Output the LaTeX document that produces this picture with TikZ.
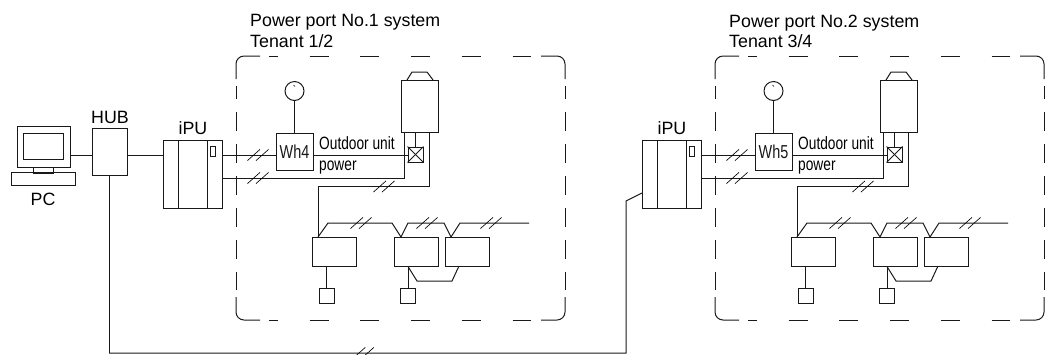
\documentclass[tikz,border=0pt]{standalone}
\usepackage{fontspec}
\setmainfont{Liberation Sans}
\newfontfamily\narrowfont[FakeStretch=0.77]{Liberation Sans}
\tikzset{
  wire/.style={line width=0.85pt,black!90},
  tickmark/.style={line width=0.55pt,black},
  box/.style 2 args={draw,wire,inner sep=0pt,minimum width=#1*0.03cm,minimum height=#2*0.03cm},
  label/.style={inner sep=0pt,anchor=base,font=\fontsize{15.2}{17.5}\selectfont},
  narrowlabel/.style={inner sep=0pt,font=\narrowfont\fontsize{15.2}{17.5}\selectfont},
  border/.style={line width=0.85pt,black!90},
  borderh/.style={border,dash pattern=on 0.57cm off 0.951cm,dash phase=0.3cm},
  borderv/.style={border,dash pattern=on 0.57cm off 0.39cm,dash phase=0.18cm}
}
\begin{document}
\begin{tikzpicture}[x=0.03cm,y=-0.03cm]
    \useasboundingbox (0,0) rectangle (1045,354);
    % PC
    \node[box={53}{41}] (mon) at (43.5,146.5) {};
    \node[box={40}{26}] (screen) at (43,146) {};
    \node[box={20}{6}] (neck) at (43,170) {};
    \node[box={64}{13.5}] (keyb) at (43,179.2) {};
    \node[label] (pclabel) at (43,205) {PC};
    % HUB
    \node[box={35}{47}] (hub) at (109.5,151.5) {};
    \node[label] (hublabel) at (110,123.5) {HUB};
    \coordinate (lan) at (140,155);
    \coordinate (lanb) at (626,353);
    \coordinate (lank) at (626,201);
    \coordinate (lanin) at (642,193);
    % one power port system
    \foreach \s/\dx/\ten/\wh in {1/0/{1/2}/4,2/479/{3/4}/5} {
      \begin{scope}[xshift=\dx*0.03cm]
        \node[label,anchor=north west,align=left] (title\s) at (250,14.5)
          {Power port No.\s{} system\\Tenant \ten};
        % dashed frame
        \draw[border,rounded corners=8*0.03cm] (236,79) -- (236,56) -- (260,56);
        \draw[border,rounded corners=8*0.03cm] (541,56) -- (565,56) -- (565,79);
        \draw[border,rounded corners=8*0.03cm] (236,297) -- (236,320) -- (260,320);
        \draw[border,rounded corners=8*0.03cm] (541,320) -- (565,320) -- (565,297);
        \draw[borderh] (269,56) -- (531,56);
        \draw[borderh] (269,320) -- (531,320);
        \draw[borderv] (236,86) -- (236,290);
        \draw[borderv] (565,86) -- (565,290);
        % iPU
        \node[box={15}{68}] (ipua\s) at (170.5,174) {};
        \node[box={29}{68}] (ipub\s) at (192.5,174) {};
        \node[box={15}{68}] (ipuc\s) at (214.5,174) {};
        \node[box={5}{10}] (led\s) at (212.5,151) {};
        \node[label] (ipulabel\s) at (193,134) {iPU};
        % meter
        \node[box={37}{37}] (wh\s) at (294.5,151.5) {\narrowfont\fontsize{16}{17.5}\selectfont Wh\wh};
        \node[draw,wire,circle,inner sep=0pt,minimum size=19*0.03cm] (meter\s) at (294.5,91) {};
        \draw[wire] (meter\s) -- (wh\s);
        \draw[tickmark] (293.5,85) -- (295,86.5);
        % outdoor unit
        \node[box={37}{52}] (unit\s) at (419.5,106) {};
        \draw[wire] (407,80) -- (412,72) -- (427,72) -- (433,80);
        \node[box={15}{15}] (xbox\s) at (415.5,154.5) {};
        \draw[wire] (xbox\s.north west) -- (xbox\s.south east);
        \draw[wire] (xbox\s.north east) -- (xbox\s.south west);
        \draw[wire] (unit\s.south -| xbox\s.north) -- (xbox\s.north);
        \node[narrowlabel,anchor=base west] (outl\s) at (319,149.3) {Outdoor unit};
        \node[narrowlabel,anchor=base west] (powl\s) at (319,170) {power};
        % power lines
        \coordinate (up\s) at (300,155);
        \coordinate (lo\s) at (300,178);
        \coordinate (tapl\s) at (404,132);
        \coordinate (tapr\s) at (429,132);
        \coordinate (bend\s) at (318,186);
        \coordinate (drop\s) at (318,237);
        \draw[wire] (ipuc\s.east |- up\s) -- (wh\s.west |- up\s);
        \draw[wire] (wh\s.east |- up\s) -- (xbox\s.west |- up\s);
        \draw[wire] (ipuc\s.east |- lo\s) -| (tapl\s);
        \draw[wire] (tapr\s) |- (bend\s) -- (drop\s);
        % indoor units
        \node[box={44}{29}] (inda\s) at (334,251.5) {};
        \node[box={44}{29}] (indb\s) at (416,251.5) {};
        \node[box={44}{29}] (indc\s) at (467,251.5) {};
        \node[box={15}{15}] (rema\s) at (326.5,295.5) {};
        \node[box={15}{15}] (remb\s) at (408,295.5) {};
        \draw[wire] (rema\s.north |- inda\s.south) -- (rema\s.north);
        \draw[wire] (remb\s.north |- indb\s.south) -- (remb\s.north);
        \draw[wire] (drop\s) -- (328,223) -- (392,223) -- (401,237) -- (408,223)
          -- (444,223) -- (451,237) -- (460,223) -- (529,223);
        \draw[wire] (remb\s.north |- indb\s.south) -- (417,281) -- (452,281) -- (459,266);
        % slashes on the lines
        \foreach \tx/\ty in {258/155,258/178,384/186.5,361/223,427/223,491/223} {
          \draw[tickmark] (\tx-4.3-6.3,\ty+5.6) -- (\tx-4.3+6.3,\ty-5.6);
          \draw[tickmark] (\tx+4.3-6.3,\ty+5.6) -- (\tx+4.3+6.3,\ty-5.6);
        }
      \end{scope}
    }
    % LAN
    \draw[wire] (mon.east |- lan) -- (hub.west |- lan);
    \draw[wire] (hub.east |- lan) -- (ipua1.west |- lan);
    \draw[wire] (hub.south) |- (lanb) -- (lank) -- (lanin);
    \draw[tickmark] (352.7,358.6) -- (365.3,347.4);
    \draw[tickmark] (361.3,358.6) -- (373.9,347.4);
  \end{tikzpicture}
\end{document}
